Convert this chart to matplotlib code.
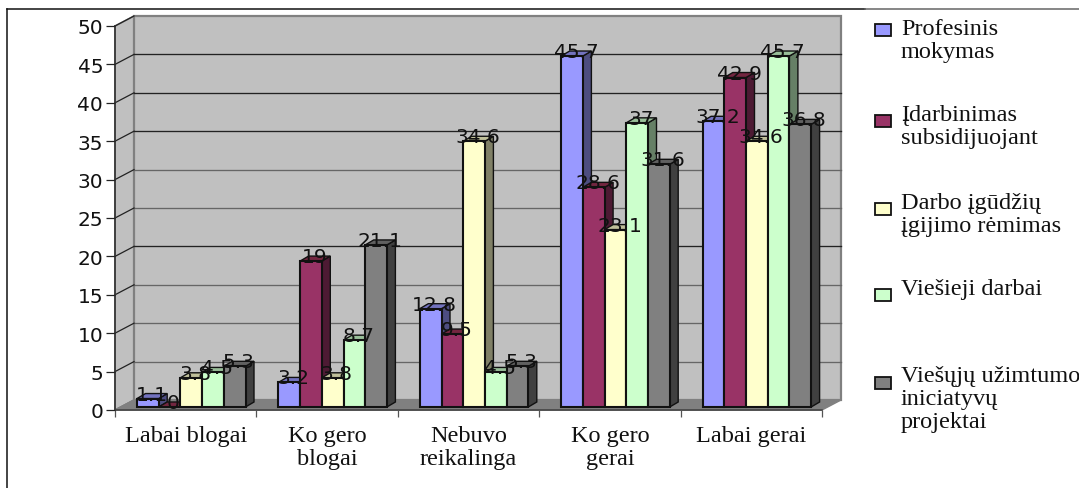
import matplotlib
matplotlib.use("Agg")
import matplotlib.pyplot as plt
from matplotlib.patches import Polygon, Rectangle
from matplotlib.lines import Line2D
from matplotlib.transforms import Affine2D

categories = ["Labai blogai", "Ko gero\nblogai", "Nebuvo\nreikalinga", "Ko gero\ngerai", "Labai gerai"]
profesinis = [1.1, 3.2, 12.8, 45.7, 37.2]
idarbinimas = [0, 19, 9.5, 28.6, 42.9]
darbo = [3.8, 3.8, 34.6, 23.1, 34.6]
viesieji = [4.5, 8.7, 4.5, 37, 45.7]
iniciatyvos = [5.3, 21.1, 5.3, 31.6, 36.8]
series_values = [profesinis, idarbinimas, darbo, viesieji, iniciatyvos]
series_names = ["Profesinis\nmokymas", "Įdarbinimas\nsubsidijuojant", "Darbo įgūdžių\nįgijimo rėmimas",
                "Viešieji darbai", "Viešųjų užimtumo\niniciatyvų\nprojektai"]
yticks = [0, 5, 10, 15, 20, 25, 30, 35, 40, 45, 50]

front = ["#9999FF", "#993366", "#FFFFCC", "#CCFFCC", "#808080"]
side = ["#4D4D80", "#4D1A33", "#808066", "#668066", "#404040"]
top = ["#7373BF", "#732640", "#BFBF99", "#99BF99", "#606060"]
legend_box_y = [25, 116, 204, 290, 378]
legend_text_y = [19, 105, 193, 279, 366]

W, H = 1079, 489
fig = plt.figure(figsize=(W / 100, H / 100), dpi=100, facecolor="white")
px = Affine2D().scale(1 / W, -1 / H).translate(0, 1) + fig.transFigure

# plot front plane: x 115..822 px, y 411..27 px
L, R, T, B = 115, 822, 27, 411
ax = fig.add_axes([L / W, 1 - B / H, (R - L) / W, (B - T) / H])
ax.set_xlim(0, 5)
ax.set_ylim(0, 50)
ax.patch.set_visible(False)
ux = 5 / (R - L)      # category units per pixel
uy = 50 / (B - T)     # value units per pixel

# outer frame
fig.add_artist(Line2D([7, 7], [10, 489], transform=px, color="#111111", lw=1.1))
fig.add_artist(Line2D([7, 865], [10, 10], transform=px, color="#111111", lw=1.1))
fig.add_artist(Line2D([865, 1079], [10, 10], transform=px, color="#666666", lw=1.1))

# walls and floor
dx, dy = 19 * ux, 10 * uy
ax.add_patch(Polygon([(0, 0), (dx, dy), (dx, 50 + dy), (0, 50)], closed=True, fc="#C0C0C0", ec="#808080", lw=1.2, clip_on=False, zorder=1))
ax.add_patch(Rectangle((dx, dy), 5, 50, fc="#C0C0C0", ec="#808080", lw=1.6, clip_on=False, zorder=1))
ax.add_patch(Polygon([(0, 0), (dx, dy), (5 + dx, dy), (5, 0)], closed=True, fc="#808080", ec="#808080", lw=1, clip_on=False, zorder=1.1))
for v in yticks[1:-1]:
    shade = "#222222" if v in (20, 35, 40, 45) else "#666666"
    ax.add_line(Line2D([dx, 5 + dx], [v + dy, v + dy], color=shade, lw=0.95, clip_on=False, zorder=1.2))
for v in yticks:
    ax.add_line(Line2D([0, dx], [v, v + dy], color="#222222" if v else "#808080", lw=0.9, clip_on=False, zorder=1.2))

# bars, painted left to right
bw = 21.7 * ux
gap = 22 * ux
sx, sy = 8.5 * ux, 5 * uy
bx, by = 0, 3 * uy
z = 2.0
for c in range(len(categories)):
    for j, vals in enumerate(series_values):
        v = vals[c]
        x0 = c + gap + j * bw + bx
        x1 = x0 + bw
        y0, y1 = by, v + by
        ec = "#111111"
        ax.add_patch(Polygon([(x1, y0), (x1 + sx, y0 + sy), (x1 + sx, y1 + sy), (x1, y1)], closed=True,
                             fc=side[j], ec=ec, lw=1.0, clip_on=False, zorder=z))
        ax.add_patch(Polygon([(x0, y1), (x0 + sx, y1 + sy), (x1 + sx, y1 + sy), (x1, y1)], closed=True,
                             fc=top[j], ec=ec, lw=1.0, clip_on=False, zorder=z))
        ax.add_patch(Rectangle((x0, y0), bw, v, fc=front[j], ec=ec, lw=1.5, clip_on=False, zorder=z))
        z += 0.01

# data labels
for c in range(len(categories)):
    for j, vals in enumerate(series_values):
        v = vals[c]
        ax.text(c + gap + (j + 0.5) * bw + 4 * ux, v + by + 4.5 * uy, f"{v:g}", ha="center", va="center",
                fontsize=14.5, family="DejaVu Sans", color="#111111", zorder=5, clip_on=False)

# axes
for s in ("top", "right"):
    ax.spines[s].set_visible(False)
ax.spines["left"].set_color("#333333")
ax.spines["left"].set_linewidth(1.2)
ax.spines["bottom"].set_color("#444444")
ax.spines["bottom"].set_linewidth(1.2)
for s in ax.spines.values():
    s.set_zorder(1.5)
ax.set_yticks(yticks)
ax.set_yticklabels([str(v) for v in yticks], family="DejaVu Sans", fontsize=14.5, color="#111111")
ax.tick_params(axis="y", length=6.5, width=0.9, color="#222222", pad=2)
ax.set_xticks(range(6))
ax.set_xticklabels([])
ax.tick_params(axis="x", which="major", length=5, width=0.9, color="#555555")
ax.set_xticks([i + 0.5 for i in range(5)], minor=True)
ax.set_xticklabels(categories, minor=True, family="Liberation Serif", fontsize=17.5, color="#111111", linespacing=1.12)
ax.tick_params(axis="x", which="minor", length=0, pad=11)

# legend
for name, color, by_, ty in zip(series_names, front, legend_box_y, legend_text_y):
    fig.add_artist(Rectangle((875, by_), 16, 12, transform=px, fc=color, ec="#111111", lw=1.3))
    fig.text(901 / W, 1 - ty / H, name, family="Liberation Serif", fontsize=17.5, color="#111111",
             va="top", ha="left", linespacing=1.12)

fig.savefig("out.png", dpi=100)
